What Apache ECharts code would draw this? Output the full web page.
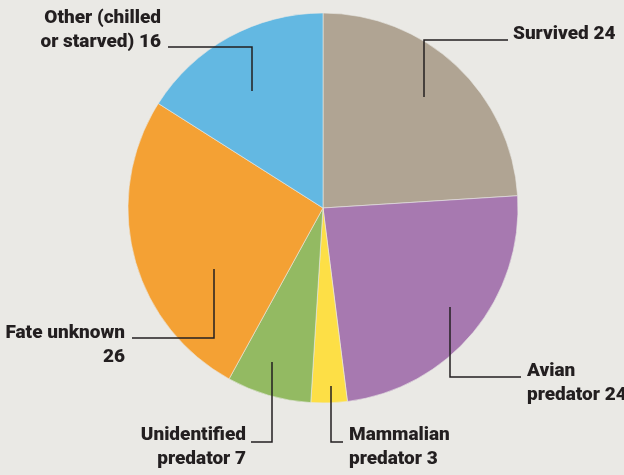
<!DOCTYPE html>
<html>
<head>
<meta charset="utf-8">
<script src="https://cdn.jsdelivr.net/npm/echarts@6/dist/echarts.min.js"></script>
<style>
  html, body { margin: 0; padding: 0; background: #eae9e5; }
  #chart { width: 624px; height: 475px; }
</style>
</head>
<body>
<div id="chart"></div>
<script>
// chart data
const names = ['Survived', 'Avian predator', 'Mammalian predator', 'Unidentified predator', 'Fate unknown', 'Other (chilled or starved)']
const values = [24, 24, 3, 7, 26, 16]
const labels = ['Survived 24', 'Avian\npredator 24', 'Mammalian\npredator 3', 'Unidentified\npredator 7', 'Fate unknown\n26', 'Other (chilled\nor starved) 16']
const colors = ['#b0a493', '#a779b0', '#fddf46', '#93ba62', '#f4a134', '#63b8e2']

// leader lines: start inside slice, elbow, end near the text; then text anchor
const leaders = [
  { pts: [[424, 97], [424, 40], [508, 40]], x: 513, y: 34, align: 'left' },
  { pts: [[450, 307], [450, 377], [521, 377]], x: 527, y: 383, align: 'left' },
  { pts: [[331, 386], [331, 442], [343, 442]], x: 349, y: 447, align: 'left' },
  { pts: [[272, 362], [272, 442], [251, 442]], x: 246, y: 447, align: 'right' },
  { pts: [[214, 269], [214, 338], [132, 338]], x: 125, y: 345, align: 'right' },
  { pts: [[252, 91], [252, 47], [168, 47]], x: 161, y: 30, align: 'right' }
]

const chart = echarts.init(document.getElementById('chart'))
chart.setOption({
  backgroundColor: '#eae9e5',
  animation: false,
  // leader lines drawn over the slices
  graphic: leaders.map(l => ({
    type: 'polyline',
    z: 100,
    silent: true,
    shape: { points: l.pts },
    style: { stroke: '#231f20', lineWidth: 1.5, fill: null }
  })),
  series: [
    {
      type: 'pie',
      center: [323, 208],
      radius: 195,
      startAngle: 90,
      clockwise: true,
      silent: true,
      avoidLabelOverlap: false,
      data: names.map((n, i) => ({
        name: n,
        value: values[i],
        itemStyle: { color: colors[i] }
      })),
      itemStyle: {
        borderColor: '#eae9e5',
        borderWidth: 0.6
      },
      label: {
        show: true,
        position: 'outside',
        formatter: p => labels[p.dataIndex],
        fontFamily: 'Roboto, sans-serif',
        fontWeight: 900,
        fontSize: 19,
        lineHeight: 24,
        color: '#231f20'
      },
      labelLine: { show: false },
      labelLayout: function (params) {
        const l = leaders[params.dataIndex]
        return {
          x: l.x,
          y: l.y,
          align: l.align,
          verticalAlign: 'middle'
        }
      }
    }
  ]
})
</script>
</body>
</html>
